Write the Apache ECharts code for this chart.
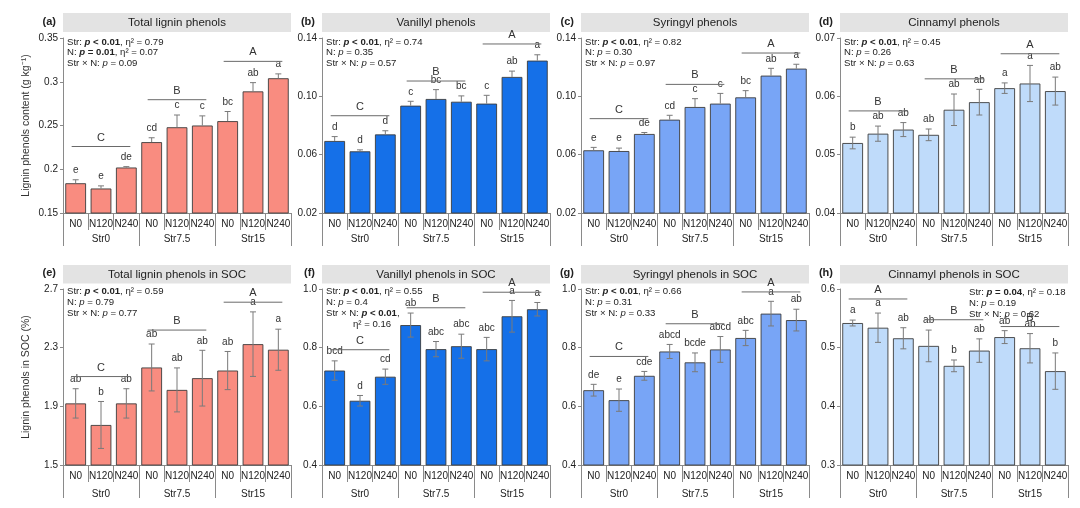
<!DOCTYPE html>
<html><head><meta charset="utf-8">
<script src="https://cdn.jsdelivr.net/npm/echarts@6/dist/echarts.min.js"></script>
<style>html,body{margin:0;padding:0;background:#fff}#c{width:1080px;height:508px}</style>
</head><body><div id="c"></div>
<script>
// ---------- DATA ----------
const subCats = ['N0','N120','N240','N0','N120','N240','N0','N120','N240'];
const groups = ['Str0','Str7.5','Str15'];

// (a) Total lignin phenols (g kg-1)
const totalLignin    = [0.184,0.178,0.202,0.231,0.248,0.250,0.255,0.289,0.304];
const totalLigninErr = [0.004,0.003,0.001,0.005,0.014,0.011,0.011,0.010,0.005];
const totalLigninLet = ['e','e','de','cd','c','c','bc','ab','a'];
const totalLigninGrpY = [0.226,0.2795,0.3233];
const totalLigninGrpL = ['C','B','A'];
const ticksA = [0.15,0.2,0.25,0.3,0.35];
const ticksALabels = ['0.15','0.2','0.25','0.3','0.35'];

// (b) Vanillyl phenols
const vanillyl    = [0.0694,0.0623,0.0739,0.0936,0.0982,0.0963,0.0950,0.1133,0.1245];
const vanillylErr = [0.0030,0.0010,0.0025,0.0030,0.0064,0.0040,0.0057,0.0040,0.0040];
const vanillylLet = ['d','d','d','c','bc','bc','c','ab','a'];
const vanillylGrpY = [0.0867,0.1105,0.1359];
const vanillylGrpL = ['C','B','A'];
const ticksB = [0.02,0.06,0.10,0.14];
const ticksBLabels = ['0.02','0.06','0.10','0.14'];

// (c) Syringyl phenols
const syringyl    = [0.0630,0.0625,0.0742,0.0840,0.0927,0.0950,0.0993,0.1142,0.1190];
const syringylErr = [0.0020,0.0020,0.0010,0.0030,0.0057,0.0070,0.0046,0.0050,0.0030];
const syringylLet = ['e','e','de','cd','c','c','bc','ab','a'];
const syringylGrpY = [0.0847,0.1082,0.1297];
const syringylGrpL = ['C','B','A'];
const ticksC = [0.02,0.06,0.10,0.14];
const ticksCLabels = ['0.02','0.06','0.10','0.14'];

// (d) Cinnamyl phenols
const cinnamyl    = [0.0520,0.0536,0.0543,0.0534,0.0577,0.0590,0.0614,0.0622,0.0609];
const cinnamylErr = [0.0010,0.0013,0.0012,0.0010,0.0027,0.0022,0.0009,0.0031,0.0024];
const cinnamylLet = ['b','ab','ab','ab','ab','ab','a','a','ab'];
const cinnamylGrpY = [0.0575,0.0630,0.0673];
const cinnamylGrpL = ['B','B','A'];
const ticksD = [0.04,0.05,0.06,0.07];
const ticksDLabels = ['0.04','0.05','0.06','0.07'];

// (e) Total lignin phenols in SOC (%)
const totalSOC    = [1.920,1.773,1.920,2.165,2.012,2.092,2.144,2.324,2.286];
const totalSOCErr = [0.10,0.16,0.10,0.16,0.15,0.19,0.13,0.22,0.14];
const totalSOCLet = ['ab','b','ab','ab','ab','ab','ab','a','a'];
const totalSOCGrpY = [2.103,2.42,2.61];
const totalSOCGrpL = ['C','B','A'];
const ticksE = [1.5,1.9,2.3,2.7];
const ticksELabels = ['1.5','1.9','2.3','2.7'];

// (f) Vanillyl phenols in SOC
const vanSOC    = [0.722,0.619,0.701,0.877,0.795,0.805,0.795,0.907,0.931];
const vanSOCErr = [0.033,0.018,0.026,0.041,0.026,0.041,0.040,0.054,0.023];
const vanSOCLet = ['bcd','d','cd','ab','abc','abc','abc','a','a'];
const vanSOCGrpY = [0.793,0.936,0.989];
const vanSOCGrpL = ['C','B','A'];
const ticksF = [0.4,0.6,0.8,1.0];
const ticksFLabels = ['0.4','0.6','0.8','1.0'];

// (g) Syringyl phenols in SOC
const syrSOC    = [0.655,0.621,0.704,0.787,0.750,0.794,0.833,0.916,0.894];
const syrSOCErr = [0.020,0.038,0.015,0.024,0.032,0.044,0.026,0.042,0.037];
const syrSOCLet = ['de','e','cde','abcd','bcde','abcd','abc','a','ab'];
const syrSOCGrpY = [0.770,0.8815,0.990];
const syrSOCGrpL = ['C','B','A'];
const ticksG = [0.4,0.6,0.8,1.0];
const ticksGLabels = ['0.4','0.6','0.8','1.0'];

// (h) Cinnamyl phenols in SOC
const cinSOC    = [0.542,0.534,0.516,0.503,0.469,0.495,0.518,0.499,0.460];
const cinSOCErr = [0.005,0.025,0.018,0.027,0.010,0.020,0.011,0.025,0.031];
const cinSOCLet = ['a','a','ab','ab','b','ab','ab','ab','b'];
const cinSOCGrpY = [0.583,0.5476,0.536];
const cinSOCGrpL = ['A','B','B'];
const ticksH = [0.3,0.4,0.5,0.6];
const ticksHLabels = ['0.3','0.4','0.5','0.6'];

// statistics text (rich-text markup)
const statsA = ['{n|Str: }{bi|p}{b| < 0.01}{n|, η² = 0.79}','{n|N: }{bi|p}{b| = 0.01}{n|, η² = 0.07}','{n|Str × N: }{i|p}{n| = 0.09}'];
const statsB = ['{n|Str: }{bi|p}{b| < 0.01}{n|, η² = 0.74}','{n|N: }{i|p}{n| = 0.35}','{n|Str × N: }{i|p}{n| = 0.57}'];
const statsC = ['{n|Str: }{bi|p}{b| < 0.01}{n|, η² = 0.82}','{n|N: }{i|p}{n| = 0.30}','{n|Str × N: }{i|p}{n| = 0.97}'];
const statsD = ['{n|Str: }{bi|p}{b| < 0.01}{n|, η² = 0.45}','{n|N: }{i|p}{n| = 0.26}','{n|Str × N: }{i|p}{n| = 0.63}'];
const statsE = ['{n|Str: }{bi|p}{b| < 0.01}{n|, η² = 0.59}','{n|N: }{i|p}{n| = 0.79}','{n|Str × N: }{i|p}{n| = 0.77}'];
const statsF = ['{n|Str: }{bi|p}{b| < 0.01}{n|, η² = 0.55}','{n|N: }{i|p}{n| = 0.4}','{n|Str × N: }{bi|p}{b| < 0.01}{n|,}','{n|η² = 0.16}'];
const statsG = ['{n|Str: }{bi|p}{b| < 0.01}{n|, η² = 0.66}','{n|N: }{i|p}{n| = 0.31}','{n|Str × N: }{i|p}{n| = 0.33}'];
const statsH = ['{n|Str: }{bi|p}{b| = 0.04}{n|, η² = 0.18}','{n|N: }{i|p}{n| = 0.19}','{n|Str × N: }{i|p}{n| = 0.62}'];

// ---------- STYLE / LAYOUT ----------
const FONT = '"Liberation Sans", Arial, Helvetica, sans-serif';
const TXT = '#222';
const AX = '#8a8a8a';
const salmon = '#F98C80', blue = '#1570E8', midBlue = '#78A5F6', lightBlue = '#BFDBFA';
const colLeft = [63, 322, 581, 840];
const plotW = 228;
const rowCfg = [
  {top: 38, h: 175, bandY: 13, bandH: 19, statY: [42, 52.5, 63, 73.5], grpMargin: 4},
  {top: 289, h: 176, bandY: 265, bandH: 18.5, statY: [291.5, 302.3, 313.2, 324], grpMargin: 7}
];

const panels = [
  {lab:'(a)', title:'Total lignin phenols', v:totalLignin, e:totalLigninErr, l:totalLigninLet, gy:totalLigninGrpY, gl:totalLigninGrpL, t:ticksA, tl:ticksALabels, c:salmon, both:false, r:0, k:0, s:statsA, yName:'Lignin phenols content (g kg⁻¹)'},
  {lab:'(b)', title:'Vanillyl phenols', v:vanillyl, e:vanillylErr, l:vanillylLet, gy:vanillylGrpY, gl:vanillylGrpL, t:ticksB, tl:ticksBLabels, c:blue, both:false, r:0, k:1, s:statsB},
  {lab:'(c)', title:'Syringyl phenols', v:syringyl, e:syringylErr, l:syringylLet, gy:syringylGrpY, gl:syringylGrpL, t:ticksC, tl:ticksCLabels, c:midBlue, both:false, r:0, k:2, s:statsC},
  {lab:'(d)', title:'Cinnamyl phenols', v:cinnamyl, e:cinnamylErr, l:cinnamylLet, gy:cinnamylGrpY, gl:cinnamylGrpL, t:ticksD, tl:ticksDLabels, c:lightBlue, both:true, r:0, k:3, s:statsD},
  {lab:'(e)', title:'Total lignin phenols in SOC', v:totalSOC, e:totalSOCErr, l:totalSOCLet, gy:totalSOCGrpY, gl:totalSOCGrpL, t:ticksE, tl:ticksELabels, c:salmon, both:true, r:1, k:0, s:statsE, yName:'Lignin phenols in SOC (%)'},
  {lab:'(f)', title:'Vanillyl phenols in SOC', v:vanSOC, e:vanSOCErr, l:vanSOCLet, gy:vanSOCGrpY, gl:vanSOCGrpL, t:ticksF, tl:ticksFLabels, c:blue, both:true, r:1, k:1, s:statsF, indentLast:true},
  {lab:'(g)', title:'Syringyl phenols in SOC', v:syrSOC, e:syrSOCErr, l:syrSOCLet, gy:syrSOCGrpY, gl:syrSOCGrpL, t:ticksG, tl:ticksGLabels, c:midBlue, both:true, r:1, k:2, s:statsG},
  {lab:'(h)', title:'Cinnamyl phenols in SOC', v:cinSOC, e:cinSOCErr, l:cinSOCLet, gy:cinSOCGrpY, gl:cinSOCGrpL, t:ticksH, tl:ticksHLabels, c:lightBlue, both:true, r:1, k:3, s:statsH, statsRight:true}
];

const SF = 9.6;
const rich = {
  n: {fontFamily: FONT, fontSize: SF, color: TXT},
  b: {fontFamily: FONT, fontSize: SF, color: TXT, fontWeight: 'bold'},
  bi: {fontFamily: FONT, fontSize: SF, color: TXT, fontWeight: 'bold', fontStyle: 'italic'},
  i: {fontFamily: FONT, fontSize: SF, color: TXT, fontStyle: 'italic'}
};

const grid = [], xAxis = [], yAxis = [], series = [], graphic = [];

panels.forEach((p, i) => {
  const rc = rowCfg[p.r];
  const left = colLeft[p.k];
  grid.push({left: left, top: rc.top, width: plotW, height: rc.h});
  xAxis.push({
    type: 'category', gridIndex: i, data: subCats,
    axisLine: {lineStyle: {color: AX, width: 1}},
    axisTick: {show: true, interval: 0, length: 17, lineStyle: {color: AX}},
    axisLabel: {interval: 0, fontSize: 10, fontFamily: FONT, color: TXT, margin: 6}
  });
  xAxis.push({
    type: 'category', gridIndex: i, data: groups, position: 'bottom', offset: 17,
    axisLine: {show: false},
    axisTick: {show: true, interval: 0, length: 16, lineStyle: {color: AX}},
    axisLabel: {interval: 0, fontSize: 10, fontFamily: FONT, color: TXT, margin: rc.grpMargin}
  });
  const tmin = p.t[0], tmax = p.t[p.t.length - 1];
  const ya = {
    type: 'value', gridIndex: i, min: tmin, max: tmax,
    axisLine: {show: true, lineStyle: {color: AX}},
    axisTick: {show: true, length: 3, customValues: p.t, lineStyle: {color: AX}},
    axisLabel: {customValues: p.t, fontSize: 10, fontFamily: FONT, color: TXT, margin: 5,
      formatter: (val) => { let idx = p.t.findIndex(x => Math.abs(x - val) < 1e-9); return idx >= 0 ? p.tl[idx] : ''; }},
    splitLine: {show: false}
  };
  if (p.yName) {
    Object.assign(ya, {name: p.yName, nameLocation: 'middle', nameGap: 31,
      nameTextStyle: {fontSize: 10.5, fontFamily: FONT, color: '#333'}});
  }
  yAxis.push(ya);

  series.push({
    type: 'bar', xAxisIndex: 2 * i, yAxisIndex: i, data: p.v,
    barCategoryGap: '18%', z: 2,
    itemStyle: {color: p.c, borderColor: '#3c3c3c', borderWidth: 0.9},
    silent: true
  });

  series.push({
    type: 'custom', xAxisIndex: 2 * i, yAxisIndex: i, z: 5, silent: true,
    data: p.v.map((val, j) => [j, val, p.e[j]]),
    encode: {x: 0, y: 1},
    renderItem: (params, api) => {
      const j = api.value(0), val = api.value(1), er = api.value(2);
      const top = api.coord([j, val + er]);
      const mid = api.coord([j, val]);
      const bot = api.coord([j, val - er]);
      const x = top[0];
      const ls = {stroke: '#7a7a7a', lineWidth: 1};
      const ch = [
        {type: 'line', shape: {x1: x, y1: p.both ? bot[1] : mid[1], x2: x, y2: top[1]}, style: ls},
        {type: 'line', shape: {x1: x - 3, y1: top[1], x2: x + 3, y2: top[1]}, style: ls}
      ];
      if (p.both) ch.push({type: 'line', shape: {x1: x - 3, y1: bot[1], x2: x + 3, y2: bot[1]}, style: ls});
      ch.push({type: 'text', x: x, y: top[1] - 9.5,
        style: {text: p.l[params.dataIndex], fontSize: 10, fontFamily: FONT, fill: '#333', align: 'center', verticalAlign: 'middle'}});
      return {type: 'group', children: ch};
    }
  });

  series.push({
    type: 'custom', xAxisIndex: 2 * i, yAxisIndex: i, z: 6, silent: true,
    data: p.gy.map((y, g) => [3 * g, 3 * g + 2, y]),
    encode: {x: [0, 1], y: 2},
    renderItem: (params, api) => {
      const a = api.coord([api.value(0), api.value(2)]);
      const b = api.coord([api.value(1), api.value(2)]);
      return {type: 'group', children: [
        {type: 'line', shape: {x1: a[0] - 4, y1: a[1], x2: b[0] + 4, y2: b[1]}, style: {stroke: '#6a6a6a', lineWidth: 1}},
        {type: 'text', x: (a[0] + b[0]) / 2, y: a[1] - 9,
          style: {text: p.gl[params.dataIndex], fontSize: 11, fontFamily: FONT, fill: '#333', align: 'center', verticalAlign: 'middle'}}
      ]};
    }
  });

  // title band
  graphic.push({type: 'rect', silent: true, z: 1,
    shape: {x: left, y: rc.bandY, width: plotW, height: rc.bandH}, style: {fill: '#e3e3e3'}});
  graphic.push({type: 'text', silent: true, z: 2, x: left + plotW / 2, y: rc.bandY + rc.bandH / 2 + 0.5,
    style: {text: p.title, fontSize: 11.5, fontFamily: FONT, fill: TXT, align: 'center', verticalAlign: 'middle'}});
  graphic.push({type: 'text', silent: true, z: 2, x: left - 7, y: rc.bandY + rc.bandH / 2 - 1,
    style: {text: p.lab, fontSize: 11, fontWeight: 'bold', fontFamily: FONT, fill: TXT, align: 'right', verticalAlign: 'middle'}});
  // statistics
  p.s.forEach((line, li) => {
    let sx = left + 4;
    let sy = rc.statY[li];
    if (p.statsRight) { sx = 969; sy = rc.statY[li] + 1; }
    if (p.indentLast && li === p.s.length - 1) sx = left + 31;
    graphic.push({type: 'text', silent: true, z: 3, x: sx, y: sy,
      style: {text: line, rich: rich, fontSize: SF, fontFamily: FONT, fill: TXT, align: 'left', verticalAlign: 'middle'}});
  });
});

const chart = echarts.init(document.getElementById('c'), null, {renderer: 'canvas'});
chart.setOption({
  animation: false,
  backgroundColor: '#fff',
  textStyle: {fontFamily: FONT},
  grid, xAxis, yAxis, series, graphic
});
</script></body></html>
